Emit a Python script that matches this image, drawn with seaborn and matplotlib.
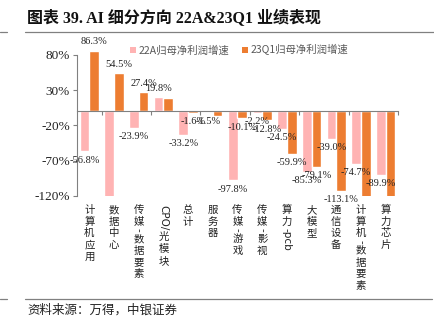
import matplotlib
matplotlib.use("Agg")
import matplotlib.pyplot as plt
import matplotlib.transforms as mtrans
from matplotlib.lines import Line2D
from matplotlib.patches import Patch
import seaborn as sns
import pandas as pd

# ---------------- data ----------------
categories = ["计算机应用", "数据中心", "传媒-数据要素", "CPO/光模块", "总计", "服务器",
              "传媒-游戏", "传媒-影视", "算力-pcb", "大模型", "通信设备",
              "计算机-数据要素", "算力芯片"]
series_names = ["22A归母净利润增速", "23Q1归母净利润增速"]
growth_22a = [-56.8, -135.0, -23.9, 19.8, -33.2, -1.5, -97.8, -2.2, -24.5, -85.3, -39.0, -74.7, -89.9]
growth_23q1 = [86.3, 54.5, 27.4, 19.6, -1.6, -6.5, -10.1, -12.8, -59.9, -79.1, -113.1, -130.0, -150.0]
# which data labels are visible in the reference
show_22a = [1, 0, 1, 1, 1, 1, 1, 1, 1, 1, 1, 1, 1]
show_23q1 = [1, 1, 1, 0, 1, 0, 1, 1, 1, 1, 1, 0, 0]
y_ticks = [80, 30, -20, -70, -120]
title = "图表 39. AI 细分方向 22A&23Q1 业绩表现"
source = "资料来源：万得，中银证券"

PINK = "#FFB3B3"
ORANGE = "#ED7D31"
GRAY = "#808080"
SERIF = ["Liberation Serif", "Noto Sans CJK SC", "DejaVu Sans"]
CJK = ["Noto Sans CJK SC", "DejaVu Sans"]

sns.set_style("white")
plt.rcParams["font.family"] = SERIF

df = pd.DataFrame({
    "cat": categories * 2,
    "series": [series_names[0]] * len(categories) + [series_names[1]] * len(categories),
    "val": growth_22a + growth_23q1,
})

W, H = 435, 328
fig = plt.figure(figsize=(W / 100, H / 100), dpi=100)
ax = fig.add_axes([77 / W, 1 - 196 / H, (398 - 77) / W, (196 - 46.5) / H])

sns.barplot(data=df, x="cat", y="val", hue="series", palette=[PINK, ORANGE],
            width=0.78, saturation=1, ax=ax, legend=False, order=categories,
            hue_order=series_names)

ax.set_ylim(-120, 92)
ax.set_xlim(-0.5, len(categories) - 0.5)
ax.set_xlabel("")
ax.set_ylabel("")

# spines
for s in ["top", "right"]:
    ax.spines[s].set_visible(False)
ax.spines["left"].set_bounds(-120, 80)
ax.spines["left"].set_color(GRAY)
ax.spines["left"].set_linewidth(0.8)
ax.spines["bottom"].set_position(("data", 0))
ax.spines["bottom"].set_color(GRAY)
ax.spines["bottom"].set_linewidth(0.8)

ax.set_yticks(y_ticks)
ax.set_yticklabels([f"{v}%" for v in y_ticks], fontsize=9.5, color="#222222")
ax.tick_params(axis="y", direction="out", length=3, width=0.8, color=GRAY, pad=2, left=True)
ax.set_xticks([k - 0.5 for k in range(1, len(categories) + 1, 2)])
ax.set_xticklabels([])
ax.tick_params(axis="x", direction="out", length=3, width=0.8, color=GRAY, bottom=True)

# data labels
for cont, vals, show in zip(ax.containers, [growth_22a, growth_23q1], [show_22a, show_23q1]):
    labels = [f"{v:.1f}%" if s else "" for v, s in zip(vals, show)]
    ax.bar_label(cont, labels=labels, padding=3, fontsize=7.5, color="#222222",
                 family=SERIF)

# vertical category labels
fig.canvas.draw()
renderer = fig.canvas.get_renderer()
PITCH = 11.7


def is_cjk(ch):
    return ord(ch) > 0x2E80


base = mtrans.blended_transform_factory(ax.transData, ax.transAxes)
for i, lab in enumerate(categories):
    runs = []
    for ch in lab:
        if is_cjk(ch):
            runs.append(ch)
        else:
            if runs and not is_cjk(runs[-1][0]):
                runs[-1] += ch
            else:
                runs.append(ch)
    cur = 9.0
    for r in runs:
        tr = mtrans.offset_copy(base, fig=fig, x=0, y=-cur, units="dots")
        if is_cjk(r[0]):
            ax.text(i, 0, r, transform=tr, ha="center", va="top", fontsize=7.5,
                    family=CJK, color="#222222", clip_on=False)
            cur += PITCH
        else:
            t = ax.text(i, 0, r, transform=tr, ha="center", va="top", fontsize=7.5,
                        rotation=270, family=["DejaVu Sans"], color="#222222", clip_on=False)
            h = t.get_window_extent(renderer).height
            cur += h + 2

# legend
handles = [Patch(facecolor=PINK, edgecolor="none"), Patch(facecolor=ORANGE, edgecolor="none")]
fig.legend(handles, series_names, loc="center", bbox_to_anchor=(0.55, 1 - 50 / H),
           ncol=2, frameon=False, handlelength=0.55, handleheight=0.55, handletextpad=0.3,
           columnspacing=1.2, prop={"family": CJK, "size": 7.5}, labelcolor="#595959")

# title and rules
fig.text(27 / W, 1 - 19 / H, title, fontsize=11.5, fontweight="bold", va="center",
         ha="left", family=SERIF, color="#111111")
for yy, xend in [(31.5, 435), (298.5, 432)]:
    fig.add_artist(Line2D([0, 7 / W], [1 - yy / H] * 2, color=GRAY, lw=0.9))
    fig.add_artist(Line2D([25 / W, xend / W], [1 - yy / H] * 2, color=GRAY, lw=0.9))

fig.text(27 / W, 1 - 310 / H, source, fontsize=9, style="italic", va="center",
         ha="left", family=CJK, color="#222222")

fig.savefig("out.png", dpi=100)
